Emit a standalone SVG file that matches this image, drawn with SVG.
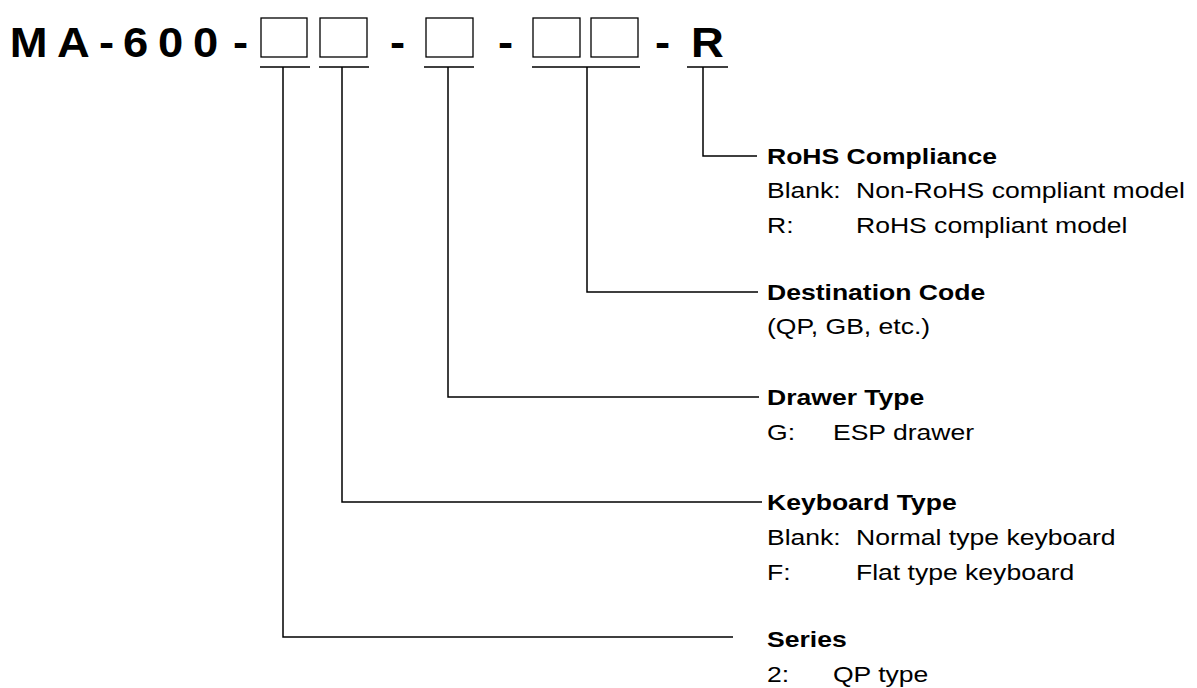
<svg xmlns="http://www.w3.org/2000/svg" width="1197" height="688" viewBox="0 0 1197 688">
<style>
.t{font-family:"Liberation Sans",Arial,sans-serif;font-size:42px;font-weight:bold;fill:#000}
.h{font-family:"Liberation Sans",Arial,sans-serif;font-size:22.5px;font-weight:bold;fill:#000}
.b{font-family:"Liberation Sans",Arial,sans-serif;font-size:22.5px;fill:#000}
.box{fill:none;stroke:#000;stroke-width:1.3}
.ln{fill:none;stroke:#000;stroke-width:1.5}
</style>
<rect width="1197" height="688" fill="#fff"/>
<g id="title">
<text class="t" transform="scale(1.08,1)" y="57" x="9 52.8 91.7 113.9 146.3 178.7 215.7">MA-600-</text>
<text class="t" transform="scale(1.08,1)" y="57" x="361.1">-</text>
<text class="t" transform="scale(1.08,1)" y="57" x="461.1">-</text>
<text class="t" transform="scale(1.08,1)" y="57" x="606.5 639.8">-R</text>
<rect class="box" x="261" y="18" width="46" height="39"/>
<rect class="box" x="320" y="18" width="47" height="39"/>
<rect class="box" x="426" y="18" width="47" height="39"/>
<rect class="box" x="533" y="18" width="47" height="39"/>
<rect class="box" x="591" y="18" width="47" height="39"/>
</g>
<g id="connectors" class="ln">
<path d="M260 67H310M319 67H369M424 67H474M532 67H640M687 67H728"/>
<path d="M283 67V637H733"/>
<path d="M342 67V502H762"/>
<path d="M448 67V397H759"/>
<path d="M587 67V292H758"/>
<path d="M703 67V156H757"/>
</g>
<g id="rohs" transform="scale(1.18,1)">
<text class="h" x="650" y="164">RoHS Compliance</text>
<text class="b" x="650" y="198.5">Blank:</text><text class="b" x="725.4" y="198.5">Non-RoHS compliant model</text>
<text class="b" x="650" y="233">R:</text><text class="b" x="725.4" y="233">RoHS compliant model</text>
</g>
<g id="destination" transform="scale(1.18,1)">
<text class="h" x="650" y="300">Destination Code</text>
<text class="b" x="650" y="334.5">(QP, GB, etc.)</text>
</g>
<g id="drawer" transform="scale(1.18,1)">
<text class="h" x="650" y="405">Drawer Type</text>
<text class="b" x="650" y="440">G:</text><text class="b" x="705.9" y="440">ESP drawer</text>
</g>
<g id="keyboard" transform="scale(1.18,1)">
<text class="h" x="650" y="510">Keyboard Type</text>
<text class="b" x="650" y="545">Blank:</text><text class="b" x="725.4" y="545">Normal type keyboard</text>
<text class="b" x="650" y="580">F:</text><text class="b" x="725.4" y="580">Flat type keyboard</text>
</g>
<g id="series" transform="scale(1.18,1)">
<text class="h" x="650" y="647">Series</text>
<text class="b" x="650" y="682">2:</text><text class="b" x="705.9" y="682">QP type</text>
</g>
</svg>
